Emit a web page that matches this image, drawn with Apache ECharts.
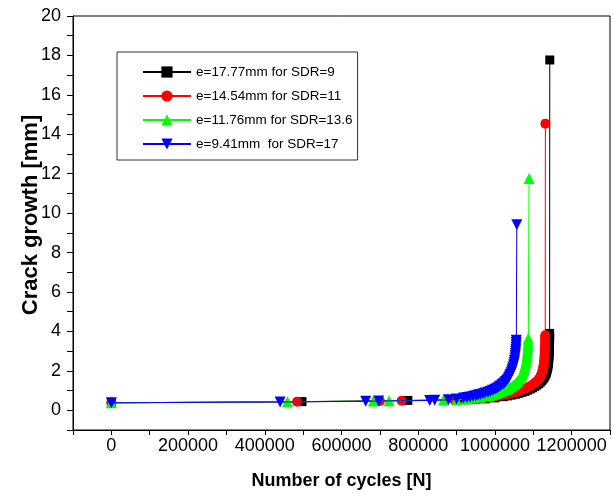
<!DOCTYPE html>
<html>
<head>
<meta charset="utf-8">
<script src="https://cdn.jsdelivr.net/npm/echarts@6/dist/echarts.min.js"></script>
<style>
    html, body { margin: 0; padding: 0; background: #fff; }
    #chart { width: 613px; height: 499px; }
</style>
</head>
<body>
<div id="chart"></div>
<script>
var seriesNames = ["e=17.77mm for SDR=9", "e=14.54mm for SDR=11", "e=11.76mm for SDR=13.6", "e=9.41mm  for SDR=17"];

// [cycles, crack growth mm]
var sdr9 = [
    [0, 0.38], [497000, 0.44], [773000, 0.50], [917000, 0.53], [950000, 0.55], [975000, 0.58],
    [1000000, 0.63], [1022000, 0.69], [1033000, 0.73], [1043000, 0.77], [1053000, 0.81],
    [1062000, 0.86], [1070000, 0.91], [1078000, 0.96], [1085000, 1.02], [1092000, 1.08],
    [1098000, 1.14], [1104000, 1.21], [1109000, 1.28], [1114000, 1.35], [1118000, 1.42],
    [1122000, 1.50], [1125000, 1.58], [1128000, 1.66], [1130500, 1.75], [1133000, 1.84],
    [1134500, 1.94], [1136000, 2.04], [1137300, 2.15], [1138500, 2.26], [1139300, 2.38],
    [1140000, 2.50], [1140600, 2.63], [1141000, 2.76], [1141400, 2.90], [1141800, 3.04],
    [1142000, 3.18], [1142200, 3.32], [1142400, 3.47], [1142500, 3.62], [1142550, 3.76],
    [1142600, 3.90], [1143000, 17.77]
];
var sdr11 = [
    [0, 0.38], [484000, 0.43], [700000, 0.47], [757000, 0.49], [894000, 0.53], [931000, 0.55],
    [958000, 0.59], [983000, 0.64], [995000, 0.67], [1005000, 0.71], [1018000, 0.75],
    [1030000, 0.80], [1040000, 0.85], [1048000, 0.89], [1057000, 0.94], [1066000, 1.00],
    [1073000, 1.05], [1080000, 1.11], [1087000, 1.18], [1094000, 1.25], [1099000, 1.31],
    [1104000, 1.38], [1108000, 1.45], [1112000, 1.52], [1115000, 1.60], [1118000, 1.68],
    [1120000, 1.77], [1122000, 1.86], [1123600, 1.96], [1125000, 2.06], [1126000, 2.17],
    [1127000, 2.28], [1127800, 2.40], [1128500, 2.52], [1129000, 2.65], [1129500, 2.78],
    [1129900, 2.92], [1130200, 3.05], [1130500, 3.19], [1130700, 3.32], [1130900, 3.45],
    [1131000, 3.58], [1131100, 3.70], [1131200, 3.80], [1131500, 14.54]
];
var sdr136 = [
    [0, 0.38], [459000, 0.43], [683000, 0.47], [724000, 0.48], [866000, 0.52], [900000, 0.54],
    [925000, 0.57], [945000, 0.61], [962000, 0.66], [978000, 0.72], [985000, 0.75],
    [992000, 0.79], [999000, 0.83], [1005000, 0.87], [1012000, 0.91], [1018000, 0.96],
    [1024000, 1.01], [1030000, 1.06], [1035000, 1.11], [1040000, 1.17], [1045000, 1.23],
    [1049000, 1.29], [1053000, 1.35], [1056000, 1.41], [1059000, 1.47], [1062000, 1.54],
    [1065000, 1.61], [1067000, 1.68], [1069000, 1.76], [1071000, 1.84], [1073000, 1.93],
    [1075000, 2.02], [1076600, 2.12], [1078000, 2.22], [1079600, 2.33], [1081000, 2.44],
    [1082000, 2.55], [1083000, 2.66], [1083800, 2.78], [1084500, 2.90], [1085000, 3.02],
    [1085500, 3.14], [1085900, 3.26], [1086300, 3.38], [1086700, 3.51], [1087000, 3.65],
    [1089000, 11.76]
];
var sdr17 = [
    [0, 0.38], [440000, 0.42], [663000, 0.46], [697000, 0.47], [830000, 0.50], [843000, 0.51],
    [879000, 0.53], [900000, 0.57], [918000, 0.62], [927000, 0.65], [935000, 0.68],
    [943000, 0.71], [950000, 0.74], [956000, 0.77], [962000, 0.80], [969000, 0.84],
    [975000, 0.88], [982000, 0.92], [988000, 0.97], [994000, 1.02], [1000000, 1.07],
    [1005000, 1.12], [1010000, 1.18], [1014000, 1.23], [1018000, 1.29], [1022000, 1.34],
    [1025000, 1.40], [1028000, 1.46], [1031000, 1.52], [1034000, 1.59], [1036000, 1.66],
    [1038000, 1.74], [1040000, 1.82], [1042000, 1.91], [1044000, 2.00], [1045500, 2.10],
    [1047000, 2.20], [1048600, 2.31], [1050000, 2.42], [1051000, 2.53], [1052000, 2.65],
    [1052800, 2.76], [1053500, 2.88], [1054000, 2.99], [1054500, 3.10], [1054900, 3.21],
    [1055200, 3.32], [1055500, 3.44], [1055800, 3.55], [1057000, 9.41]
];

var colors = ["#000000", "#ff0000", "#00ff00", "#0000ff"];
var symbols = ["rect", "circle", "triangle", "path://M0,0 L10,0 L5,10 Z"];
var sizes = [9, 10, 11, 11];
var allData = [sdr9, sdr11, sdr136, sdr17];

var font = "Arial, 'Liberation Sans', sans-serif";

var makeSeries = function (i) {
    return {
        name: seriesNames[i],
        type: "line",
        data: allData[i],
        symbol: symbols[i],
        symbolSize: sizes[i],
        color: colors[i],
        lineStyle: { color: colors[i], width: 1 },
        itemStyle: { color: colors[i] },
        z: 2 + i
    };
};

var option = {
    animation: false,
    backgroundColor: "#fff",
    grid: {
        left: 73, right: 1, top: 16, bottom: 69,
        show: true, borderColor: "#000", borderWidth: 1
    },
    legend: {
        orient: "vertical",
        left: 117, top: 52,
        itemWidth: 48, itemHeight: 14, itemGap: 10,
        padding: [13, 5, 9, 25],
        borderColor: "#333", borderWidth: 1,
        textStyle: { fontFamily: font, fontSize: 13.5, color: "#000" },
        data: seriesNames
    },
    xAxis: {
        type: "value",
        min: -100000, max: 1300000, interval: 100000,
        name: "Number of cycles [N]",
        nameLocation: "middle", nameGap: 42, nameMoveOverlap: false,
        nameTextStyle: { fontFamily: font, fontSize: 18, fontWeight: "bold", color: "#000" },
        axisLine: { show: true, onZero: false, lineStyle: { color: "#000", width: 1 } },
        axisTick: { show: true, length: 5, lineStyle: { color: "#000" } },
        splitLine: { show: false },
        axisLabel: {
            margin: 7, fontFamily: font, fontSize: 18, color: "#000",
            formatter: function (v) { return (v >= 0 && v % 200000 === 0) ? String(v) : ""; }
        }
    },
    yAxis: {
        type: "value",
        min: -1, max: 20, interval: 1,
        name: "Crack growth [mm]",
        nameLocation: "middle", nameGap: 31, nameMoveOverlap: false,
        nameTextStyle: {
            fontFamily: font, fontSize: 22, fontWeight: "bold", color: "#000",
            padding: [0, 0, 0, 16]
        },
        axisLine: { show: true, onZero: false, lineStyle: { color: "#000", width: 1 } },
        axisTick: { show: true, length: 6, lineStyle: { color: "#000" } },
        splitLine: { show: false },
        axisLabel: {
            margin: 12, fontFamily: font, fontSize: 18, color: "#000",
            formatter: function (v) { return (v >= 0 && v % 2 === 0) ? String(v) : ""; }
        }
    },
    series: [makeSeries(0), makeSeries(1), makeSeries(2), makeSeries(3)]
};

var myChart = echarts.init(document.getElementById("chart"));
myChart.setOption(option, true);
</script>
</body>
</html>
